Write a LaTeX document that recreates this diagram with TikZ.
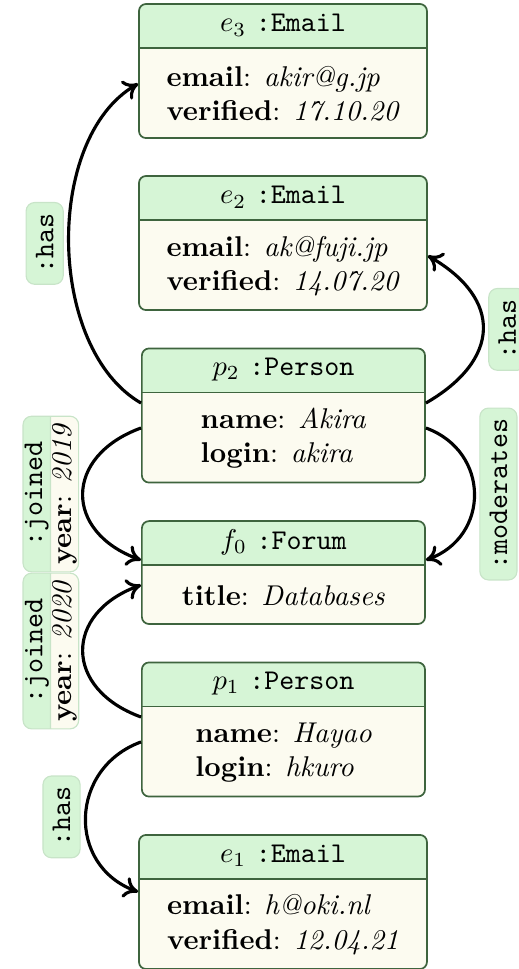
\documentclass[tikz,border=0pt]{standalone}
\usepackage{tikz}
\usetikzlibrary{positioning,arrows.meta,shapes.multipart}

\definecolor{headgreen}{RGB}{214,245,214}
\definecolor{bodycream}{RGB}{252,251,240}
\definecolor{boxline}{RGB}{62,100,62}
\definecolor{tagline}{RGB}{200,228,200}

\begin{document}
\begin{tikzpicture}[
    entity/.style={
        rectangle,
        draw=boxline,
        fill=bodycream,
        line width=0.6pt,
        rounded corners=2.5pt,
        minimum width=3.54cm,
        minimum height=46.9pt,
        path picture={
            \fill[headgreen, sharp corners] (path picture bounding box.north west) rectangle ([yshift=-15.4pt]path picture bounding box.north east);
            \draw[boxline, line width=0.6pt, sharp corners] ([yshift=-15.4pt]path picture bounding box.north west) -- ([yshift=-15.4pt]path picture bounding box.north east);
        }
    },
    headtext/.style={
        inner sep=0pt
    },
    bodytext/.style={
        align=left,
        inner sep=0pt
    },
    tag/.style={
        rectangle,
        rotate=90,
        draw=tagline,
        line width=0.4pt,
        fill=headgreen,
        rounded corners=3pt,
        inner xsep=3.8pt,
        inner ysep=3.4pt,
        outer sep=2pt
    },
    tagsplit/.style={
        rectangle split,
        rectangle split parts=2,
        rectangle split part fill={headgreen,bodycream},
        rotate=90,
        draw=tagline,
        line width=0.4pt,
        rounded corners=3pt,
        inner xsep=2.5pt,
        inner ysep=0.4pt,
        outer sep=1.5pt
    },
    arrow/.style={
        -{Computer Modern Rightarrow[length=5pt,width=7.5pt]},
        line width=1.1pt,
        draw=black
    }
]

% Page size
\useasboundingbox (0,0) rectangle (6.379,-11.910);

% Email e3
\node[entity] (e3) at (3.478,-0.873) {};
\node[headtext] (e3h) at (e3.north) [yshift=-7.7pt] {$e_3$ \texttt{:Email}};
\node[bodytext] (e3b) at (e3.south) [yshift=15.75pt] {\textbf{email}: \textit{akir@g.jp}\\\textbf{verified}: \textit{17.10.20}};

% Email e2
\node[entity] (e2) at (3.478,-2.987) {};
\node[headtext] (e2h) at (e2.north) [yshift=-7.7pt] {$e_2$ \texttt{:Email}};
\node[bodytext] (e2b) at (e2.south) [yshift=15.75pt] {\textbf{email}: \textit{ak@fuji.jp}\\\textbf{verified}: \textit{14.07.20}};

% Person p2
\node[entity, minimum width=3.48cm] (p2) at (3.484,-5.107) {};
\node[headtext] (p2h) at (p2.north) [yshift=-7.7pt] {$p_2$ \texttt{:Person}};
\node[bodytext] (p2b) at (p2.south) [yshift=15.75pt] {\textbf{name}: \textit{Akira}\\\textbf{login}: \textit{akira}};

% Forum f0
\node[entity, minimum width=3.48cm, minimum height=36pt] (f0) at (3.484,-7.037) {};
\node[headtext] (f0h) at (f0.north) [yshift=-7.7pt] {$f_0$ \texttt{:Forum}};
\node[bodytext] (f0b) at (f0.south) [yshift=10.3pt] {\textbf{title}: \textit{Databases}};

% Person p1
\node[entity, minimum width=3.48cm] (p1) at (3.484,-8.966) {};
\node[headtext] (p1h) at (p1.north) [yshift=-7.7pt] {$p_1$ \texttt{:Person}};
\node[bodytext] (p1b) at (p1.south) [yshift=15.75pt] {\textbf{name}: \textit{Hayao}\\\textbf{login}: \textit{hkuro}};

% Email e1
\node[entity] (e1) at (3.478,-11.086) {};
\node[headtext] (e1h) at (e1.north) [yshift=-7.7pt] {$e_1$ \texttt{:Email}};
\node[bodytext] (e1b) at (e1.south) [yshift=15.75pt] {\textbf{email}: \textit{h@oki.nl}\\\textbf{verified}: \textit{12.04.21}};

% Edges
\draw[arrow] (p2.175) to[out=150, in=210, looseness=0.87] node[tag, midway, anchor=south] (has3) {\texttt{:has}} (e3.185);
\draw[arrow] (p2.5) to[out=30, in=-30, looseness=1.5] node[tag, midway, anchor=north] (has2) {\texttt{:has}} (e2.355);
\draw[arrow] (p2.185) to[out=200, in=160, looseness=1.6] node[tagsplit, midway, anchor=south] (joined2) {\texttt{:joined}\nodepart{two}\textbf{year}: \textit{2019}} (f0.175);
\draw[arrow] (p2.355) to[out=-20, in=20, looseness=1.33] node[tag, midway, anchor=north] (moderates) {\texttt{:moderates}} (f0.5);
\draw[arrow] (p1.175) to[out=160, in=200, looseness=1.6] node[tagsplit, midway, anchor=south] (joined1) {\texttt{:joined}\nodepart{two}\textbf{year}: \textit{2020}} (f0.185);
\draw[arrow] (p1.185) to[out=200, in=160, looseness=1.3] node[tag, midway, anchor=south] (has1) {\texttt{:has}} (e1.176);

\end{tikzpicture}
\end{document}
